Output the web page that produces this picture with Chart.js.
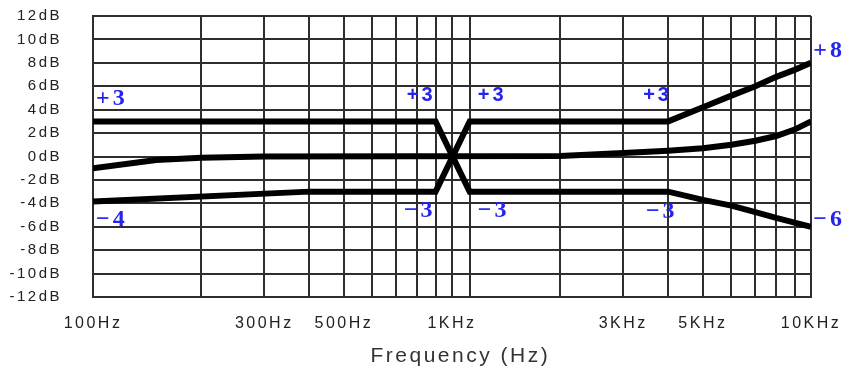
<!DOCTYPE html>
<html>
<head>
<meta charset="utf-8">
<script src="https://cdn.jsdelivr.net/npm/chart.js@4"></script>
<style>
  html, body { margin: 0; padding: 0; background: #fff; }
</style>
</head>
<body>
<canvas id="eqChart" width="852" height="372"></canvas>
<script>
// grid lines on the frequency axis, and the ones that get a label
const gridFreqs = [100, 200, 300, 400, 500, 600, 700, 800, 900, 1000, 1120,
  2000, 3000, 4000, 5000, 6000, 7000, 8000, 9000, 10000];
const labelFreqs = [100, 300, 500, 1000, 3000, 5000, 10000];
const labelTexts = ['100Hz', '300Hz', '500Hz', '1KHz', '3KHz', '5KHz', '10KHz'];

// curve that starts at +3 and ends at -6
const upperFreqs = [100, 900, 1120, 4000, 5000, 6000, 7000, 8000, 9000, 10000];
const upperDb = [3, 3, -3, -3, -3.7, -4.2, -4.75, -5.25, -5.65, -6];

// curve that starts at -4 and ends at +8
const lowerFreqs = [100, 400, 900, 1120, 4000, 5000, 6000, 7000, 8000, 9000, 10000];
const lowerDb = [-3.85, -3, -3, 3, 3, 4.2, 5.2, 6.0, 6.8, 7.4, 8];

// the flat-ish one around 0 dB
const flatFreqs = [100, 150, 200, 300, 2000, 3000, 4000, 5000, 6000, 7000, 8000, 9000, 10000];
const flatDb = [-1.0, -0.3, -0.1, 0, 0.05, 0.3, 0.5, 0.7, 1.0, 1.35, 1.75, 2.3, 3.0];

// blue notes on the curves
const noteTexts = ['+3', '−4', '+3', '+3', '−3', '−3', '+3', '−3', '+8', '−6'];
const noteFreqs = [102, 102, 900, 1180, 900, 1180, 4100, 4250, 10150, 10150];
const noteDb = [4.9, -5.4, 5.25, 5.25, -4.65, -4.65, 5.2, -4.7, 9.0, -5.4];

const noteAlign = ['left', 'left', 'right', 'left', 'right', 'left', 'right', 'right', 'left', 'left'];
const serifFont = 'bold 24px "Liberation Serif", "Times New Roman", serif';
const sansFont = 'bold 20px "Liberation Sans", Arial, sans-serif';
const sansFamily = '"Liberation Sans", Arial, sans-serif';

function toPoints(xs, ys) {
  return xs.map((f, i) => ({ x: f, y: ys[i] }));
}

function lineSet(xs, ys) {
  return {
    data: toPoints(xs, ys),
    borderColor: '#000',
    borderWidth: 6,
    pointRadius: 0,
    tension: 0,
    fill: false
  };
}

// chart.js has no letter spacing option, the reference text is wide
const spacing = {
  id: 'spacing',
  beforeDraw(chart) { chart.ctx.letterSpacing = '2.5px'; },
  afterDraw(chart) { chart.ctx.letterSpacing = '0px'; }
};

const notes = {
  id: 'notes',
  afterDatasetsDraw(chart) {
    const { ctx, scales } = chart;
    ctx.save();
    ctx.fillStyle = '#2424ee';
    ctx.textBaseline = 'middle';
    ctx.letterSpacing = '3px';
    noteTexts.forEach((t, i) => {
      const sans = t === '+3' && i !== 0;
      ctx.font = sans ? sansFont : serifFont;
      ctx.textAlign = noteAlign[i];
      ctx.fillText(t, scales.x.getPixelForValue(noteFreqs[i]), scales.y.getPixelForValue(noteDb[i]));
    });
    ctx.restore();
  }
};

const ctx = document.getElementById('eqChart').getContext('2d');
new Chart(ctx, {
  type: 'line',
  data: {
    datasets: [
      lineSet(upperFreqs, upperDb),
      lineSet(lowerFreqs, lowerDb),
      lineSet(flatFreqs, flatDb)
    ]
  },
  options: {
    responsive: false,
    animation: false,
    devicePixelRatio: 1,
    layout: { padding: { top: 16, right: 37, left: 0, bottom: 0 } },
    plugins: {
      legend: { display: false },
      tooltip: { enabled: false }
    },
    scales: {
      x: {
        type: 'logarithmic',
        min: 100,
        max: 10000,
        afterBuildTicks: s => { s.ticks = gridFreqs.map(v => ({ value: v })); },
        afterFit: s => { s.height = 75; },
        grid: { color: '#2e2e2e', lineWidth: 2, drawTicks: false },
        border: { color: '#2e2e2e', width: 2 },
        ticks: {
          autoSkip: false,
          maxRotation: 0,
          padding: 17,
          color: '#222',
          font: { family: sansFamily, size: 16 },
          callback: v => {
            const i = labelFreqs.indexOf(v);
            return i < 0 ? '' : labelTexts[i];
          }
        },
        title: {
          display: true,
          text: '  Frequency (Hz)',
          color: '#333',
          font: { family: sansFamily, size: 21 },
          padding: { top: 0, bottom: 3 }
        }
      },
      y: {
        min: -12,
        max: 12,
        afterFit: s => { s.width = 93; },
        // invisible tick marks push the labels away from the axis
        grid: { color: '#2e2e2e', lineWidth: 2, drawTicks: true, tickLength: 28, tickColor: 'rgba(0,0,0,0)' },
        border: { color: '#2e2e2e', width: 2 },
        ticks: {
          stepSize: 2,
          padding: 3,
          color: '#222',
          font: { family: sansFamily, size: 15 },
          callback: v => v + 'dB'
        }
      }
    }
  },
  plugins: [spacing, notes]
});
</script>
</body>
</html>
